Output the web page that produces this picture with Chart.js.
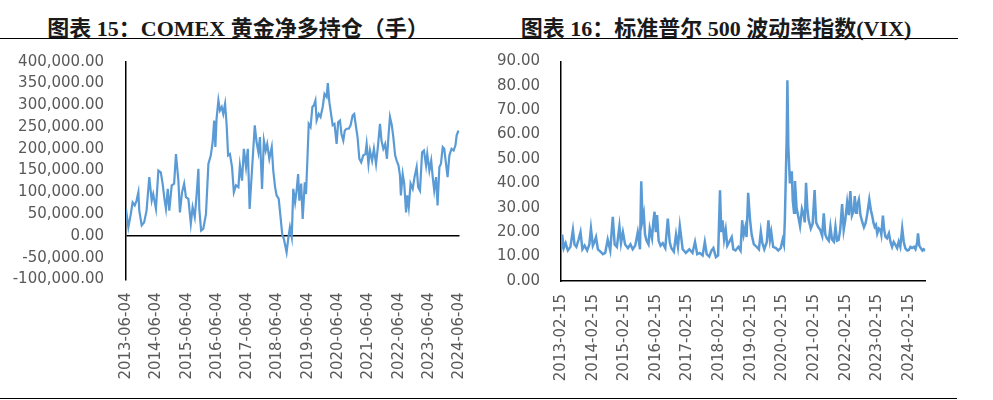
<!DOCTYPE html>
<html>
<head>
<meta charset="utf-8">
<title>COMEX 黄金净多持仓 / VIX</title>
<script src="https://cdn.jsdelivr.net/npm/chart.js@4.4.1/dist/chart.umd.min.js"></script>
<style>
    body { margin: 0; width: 993px; height: 400px; background: #fff; position: relative; overflow: hidden; }
    .title {
        position: absolute; top: 10px; line-height: 26px;
        font: bold 22px "Liberation Serif", "Noto Sans CJK SC", serif;
        color: #1a1a1a; white-space: nowrap; transform: translateX(-50%);
    }
    .rule { position: absolute; left: 0; height: 1.5px; background: #000; }
    .box { position: absolute; top: 50px; }
    canvas { display: block; }
</style>
</head>
<body>
<div class="title" style="left:238px">图表 15：COMEX 黄金净多持仓（手）</div>
<div class="title" style="left:716px">图表 16：标准普尔 500 波动率指数(VIX)</div>
<div class="rule" style="top:37.5px; width:958px"></div>
<div class="rule" style="top:397.5px; width:957px"></div>
<div class="box" style="left:0"><canvas id="gold" width="480" height="345"></canvas></div>
<div class="box" style="left:490px"><canvas id="vix" width="460" height="345"></canvas></div>

<script>
// COMEX gold net long (contracts), time as decimal year
const goldT = [
    2013.42, 2013.50, 2013.58, 2013.64, 2013.71, 2013.77, 2013.83, 2013.86, 2013.94, 2014.02,
    2014.10, 2014.19, 2014.27, 2014.32, 2014.41, 2014.49, 2014.57, 2014.63, 2014.69, 2014.74,
    2014.80, 2014.85, 2014.93, 2015.01, 2015.07, 2015.15, 2015.20, 2015.27, 2015.34, 2015.40,
    2015.48, 2015.56, 2015.62, 2015.69, 2015.75, 2015.81, 2015.84, 2015.90, 2015.97, 2016.06,
    2016.14, 2016.22, 2016.28, 2016.33, 2016.37, 2016.41, 2016.47, 2016.52, 2016.58, 2016.63,
    2016.69, 2016.74, 2016.79, 2016.85, 2016.92, 2016.98, 2017.05, 2017.13, 2017.18, 2017.25,
    2017.31, 2017.38, 2017.44, 2017.50, 2017.57, 2017.67, 2017.73, 2017.79, 2017.84, 2017.91,
    2017.97, 2018.03, 2018.08, 2018.15, 2018.23, 2018.28, 2018.34, 2018.39, 2018.46, 2018.52,
    2018.58, 2018.63, 2018.72, 2018.78, 2018.83, 2018.89, 2018.94, 2019.00, 2019.05, 2019.10,
    2019.14, 2019.20, 2019.25, 2019.32, 2019.36, 2019.40, 2019.45, 2019.51, 2019.57, 2019.62,
    2019.67, 2019.71, 2019.78, 2019.84, 2019.91, 2019.97, 2020.04, 2020.08, 2020.13, 2020.17,
    2020.24, 2020.30, 2020.37, 2020.42, 2020.48, 2020.53, 2020.59, 2020.64, 2020.70, 2020.77,
    2020.83, 2020.90, 2020.95, 2021.01, 2021.06, 2021.12, 2021.18, 2021.25, 2021.32, 2021.36,
    2021.42, 2021.47, 2021.54, 2021.60, 2021.67, 2021.73, 2021.80, 2021.85, 2021.91, 2021.97,
    2022.03, 2022.09, 2022.13, 2022.19, 2022.24, 2022.30, 2022.35, 2022.41, 2022.46, 2022.49,
    2022.55, 2022.60, 2022.66, 2022.70, 2022.75, 2022.81, 2022.88, 2022.94, 2023.01, 2023.06,
    2023.12, 2023.19, 2023.25, 2023.32, 2023.36, 2023.43, 2023.49, 2023.54, 2023.59, 2023.65,
    2023.70, 2023.76, 2023.81, 2023.87, 2023.92, 2023.98, 2024.03, 2024.09, 2024.16, 2024.23,
    2024.29, 2024.33, 2024.39
];
const goldNet = [
    62000, 20000, 50000, 77000, 70000, 81000, 100000, 58000, 24000, 31000,
    58000, 135000, 81000, 96000, 62000, 150000, 146000, 120000, 85000, 62000,
    108000, 58000, 116000, 120000, 188000, 127000, 54000, 100000, 120000, 89000,
    85000, 28000, 66000, 43000, 93000, 154000, 62000, 12000, 16000, 50000,
    165000, 185000, 215000, 265000, 204000, 269000, 311000, 288000, 296000, 280000,
    303000, 257000, 185000, 188000, 158000, 100000, 116000, 112000, 162000, 127000,
    200000, 158000, 200000, 62000, 142000, 254000, 215000, 192000, 227000, 108000,
    219000, 196000, 211000, 177000, 204000, 150000, 112000, 93000, 85000, 43000,
    1000, -7000, -38000, -3000, 20000, -3000, 108000, 77000, 104000, 142000,
    81000, 120000, 39000, 123000, 96000, 165000, 257000, 250000, 296000, 300000,
    311000, 265000, 280000, 273000, 296000, 326000, 319000, 351000, 307000, 288000,
    254000, 257000, 211000, 261000, 265000, 234000, 219000, 242000, 246000, 246000,
    254000, 277000, 280000, 250000, 227000, 177000, 169000, 185000, 188000, 211000,
    165000, 196000, 173000, 200000, 165000, 204000, 257000, 219000, 200000, 211000,
    177000, 238000, 273000, 254000, 227000, 185000, 173000, 162000, 139000, 93000,
    142000, 120000, 54000, 93000, 66000, 120000, 108000, 135000, 158000, 112000,
    104000, 192000, 196000, 162000, 188000, 150000, 173000, 135000, 104000, 135000,
    70000, 158000, 165000, 204000, 200000, 165000, 135000, 185000, 200000, 196000,
    208000, 231000, 242000
];
const goldTickLabels = [
    '2013-06-04', '2014-06-04', '2015-06-04', '2016-06-04', '2017-06-04', '2018-06-04',
    '2019-06-04', '2020-06-04', '2021-06-04', '2022-06-04', '2023-06-04', '2024-06-04'
];

// VIX index, time as decimal year
const vixT = [
    2013.13, 2013.16, 2013.21, 2013.27, 2013.34, 2013.42, 2013.50, 2013.55, 2013.61, 2013.68,
    2013.74, 2013.80, 2013.87, 2013.95, 2014.02, 2014.07, 2014.13, 2014.18, 2014.23, 2014.29,
    2014.37, 2014.45, 2014.52, 2014.60, 2014.68, 2014.76, 2014.82, 2014.89, 2014.97, 2015.02,
    2015.08, 2015.15, 2015.24, 2015.32, 2015.39, 2015.47, 2015.55, 2015.62, 2015.66, 2015.70,
    2015.74, 2015.78, 2015.83, 2015.89, 2015.93, 2016.00, 2016.04, 2016.08, 2016.12, 2016.16,
    2016.21, 2016.27, 2016.34, 2016.42, 2016.50, 2016.56, 2016.61, 2016.69, 2016.76, 2016.82,
    2016.88, 2016.97, 2017.07, 2017.18, 2017.28, 2017.36, 2017.43, 2017.51, 2017.60, 2017.67,
    2017.73, 2017.81, 2017.88, 2017.94, 2018.02, 2018.09, 2018.15, 2018.19, 2018.23, 2018.28,
    2018.33, 2018.38, 2018.44, 2018.52, 2018.57, 2018.64, 2018.73, 2018.80, 2018.85, 2018.90,
    2018.95, 2018.99, 2019.04, 2019.10, 2019.15, 2019.22, 2019.31, 2019.38, 2019.44, 2019.49,
    2019.55, 2019.63, 2019.68, 2019.73, 2019.77, 2019.83, 2019.92, 2019.99, 2020.07, 2020.13,
    2020.17, 2020.20, 2020.26, 2020.28, 2020.31, 2020.36, 2020.42, 2020.45, 2020.49, 2020.52,
    2020.57, 2020.63, 2020.68, 2020.74, 2020.80, 2020.83, 2020.87, 2020.91, 2020.95, 2021.02,
    2021.08, 2021.14, 2021.19, 2021.25, 2021.32, 2021.38, 2021.43, 2021.48, 2021.53, 2021.59,
    2021.64, 2021.69, 2021.75, 2021.80, 2021.85, 2021.90, 2021.95, 2022.01, 2022.06, 2022.11,
    2022.17, 2022.22, 2022.27, 2022.32, 2022.38, 2022.41, 2022.45, 2022.48, 2022.54, 2022.59,
    2022.64, 2022.70, 2022.75, 2022.80, 2022.87, 2022.92, 2022.96, 2023.00, 2023.04, 2023.08,
    2023.12, 2023.17, 2023.22, 2023.25, 2023.30, 2023.34, 2023.38, 2023.43, 2023.49, 2023.54,
    2023.59, 2023.64, 2023.70, 2023.75, 2023.80, 2023.85, 2023.91, 2023.96, 2024.01, 2024.07,
    2024.12, 2024.17, 2024.22, 2024.28, 2024.33, 2024.38, 2024.41, 2024.45, 2024.50, 2024.55,
    2024.59, 2024.64
];
const vixClose = [
    13, 19, 13.5, 15.5, 12.5, 14, 20.9, 15, 14, 17,
    20, 13, 14.5, 12.5, 15, 21.5, 14.5, 16, 18, 13,
    12, 11, 11.5, 17, 12.5, 26.3, 15, 14, 22.5, 15.5,
    20, 15, 13.5, 15, 13, 14.5, 20, 13, 40.9, 25,
    27.6, 19, 16.5, 15, 21.5, 17.5, 24, 28.4, 20, 27,
    16.5, 14.5, 15.5, 13.5, 25.6, 16, 13.5, 12, 19, 14,
    22.5, 13, 11.5, 13, 11.5, 16, 11, 11.5, 10.5, 16,
    11, 10, 12.5, 13.5, 9.8, 10.5, 37.2, 20, 24.9, 17,
    21, 14.5, 16, 18, 13, 12.5, 14, 12.5, 24.9, 19,
    22, 18, 36.1, 25, 19, 15, 14, 13, 20.2, 15.5,
    13, 16, 24.9, 17, 20, 14, 13.5, 12.5, 13.5, 17,
    15, 25, 60, 82.3, 55, 40, 45, 33, 28, 41,
    30, 26, 22.5, 29.5, 26.8, 24, 40.2, 30, 25.2, 21.5,
    23.6, 37.3, 24, 22.2, 20.9, 18.5, 27.7, 19, 17.5, 16.5,
    22.2, 17, 16.1, 22.2, 16.5, 16.8, 21, 31.5, 20.9, 25,
    32.2, 27, 36.9, 26.8, 29, 34.8, 28, 30.7, 33.4, 27,
    24.5, 22, 23.6, 27, 33.4, 29, 26.8, 24, 22.2, 23,
    19.5, 21.5, 20.9, 19, 26.8, 21, 18.1, 17.5, 19.5, 16,
    14, 16, 14.7, 13.5, 16.1, 14, 21.6, 16, 13.4, 12.5,
    12.7, 14, 13.5, 14, 13, 15.5, 19.5, 14.5, 13.4, 12.5,
    13, 12.4
];
const vixTickLabels = [
    '2013-02-15', '2014-02-15', '2015-02-15', '2016-02-15', '2017-02-15', '2018-02-15',
    '2019-02-15', '2020-02-15', '2021-02-15', '2022-02-15', '2023-02-15', '2024-02-15'
];

const LINE_BLUE = '#5B9BD5';
const LABEL_GREY = '#595959';
const tickFont = { family: 'DejaVu Sans', size: 15 };

// 'YYYY-MM-DD' -> decimal year
function toYear(s) {
    const d = Date.parse(s + 'T00:00:00Z');
    const y = new Date(d).getUTCFullYear();
    const start = Date.UTC(y, 0, 1);
    return y + (d - start) / (Date.UTC(y + 1, 0, 1) - start);
}

function toPoints(xs, ys) {
    return xs.map((x, i) => ({ x: x, y: ys[i] }));
}

// Date axis with one label per year, rotated like the Excel original
function dateAxis(labels, min, max, height, showBorder) {
    return {
        type: 'linear',
        min: min,
        max: max,
        afterBuildTicks: scale => {
            scale.ticks = labels.map(l => ({ value: toYear(l) }));
        },
        afterFit: scale => {
            scale.height = height;
            // keep the plot edges where the layout padding puts them
            scale.paddingLeft = 0;
            scale.paddingRight = 0;
        },
        grid: { display: false, drawTicks: false },
        border: { display: showBorder, color: '#000', width: 1.5 },
        ticks: {
            autoSkip: false,
            minRotation: 90,
            maxRotation: 90,
            padding: 13,
            color: LABEL_GREY,
            font: tickFont,
            callback: (value, index) => labels[index]
        }
    };
}

function valueAxisFit(width) {
    return scale => {
        scale.width = width;
        scale.paddingTop = 0;
        scale.paddingBottom = 0;
    };
}

function lineDataset(points, width) {
    return {
        data: points,
        borderColor: LINE_BLUE,
        borderWidth: width,
        pointRadius: 0,
        tension: 0,
        fill: false
    };
}

const basePlugins = { legend: { display: false }, tooltip: { enabled: false } };

new Chart(document.getElementById('gold'), {
    type: 'line',
    data: { datasets: [lineDataset(toPoints(goldT, goldNet), 2.2)] },
    options: {
        responsive: false,
        animation: false,
        layout: { padding: { top: 11.7, right: 20.5, bottom: 0, left: 0 } },
        plugins: basePlugins,
        scales: {
            x: dateAxis(goldTickLabels, toYear(goldTickLabels[0]),
                toYear(goldTickLabels[goldTickLabels.length - 1]), 115.6, false),
            y: {
                min: -100000,
                max: 400000,
                afterFit: valueAxisFit(126),
                grid: {
                    drawTicks: false,
                    lineWidth: 1.5,
                    color: ctx => (ctx.tick && ctx.tick.value === 0) ? '#000' : 'rgba(0,0,0,0)'
                },
                border: { color: '#000', width: 1.5 },
                ticks: {
                    stepSize: 50000,
                    autoSkip: false,
                    padding: 22,
                    color: LABEL_GREY,
                    font: tickFont,
                    callback: v => v.toLocaleString('en-US', { minimumFractionDigits: 2, maximumFractionDigits: 2 })
                }
            }
        }
    }
});

new Chart(document.getElementById('vix'), {
    type: 'line',
    data: { datasets: [lineDataset(toPoints(vixT, vixClose), 2.5)] },
    options: {
        responsive: false,
        animation: false,
        layout: { padding: { top: 11.4, right: 24.7, bottom: 0, left: 0 } },
        plugins: basePlugins,
        scales: {
            x: dateAxis(vixTickLabels, toYear(vixTickLabels[0]), vixT[vixT.length - 1], 114, true),
            y: {
                min: 0,
                max: 90,
                afterFit: valueAxisFit(71),
                grid: { display: false, drawTicks: false },
                border: { color: '#000', width: 1.5 },
                ticks: {
                    stepSize: 10,
                    autoSkip: false,
                    padding: 21,
                    color: LABEL_GREY,
                    font: tickFont,
                    callback: v => v.toFixed(2)
                }
            }
        }
    }
});
</script>
</body>
</html>
